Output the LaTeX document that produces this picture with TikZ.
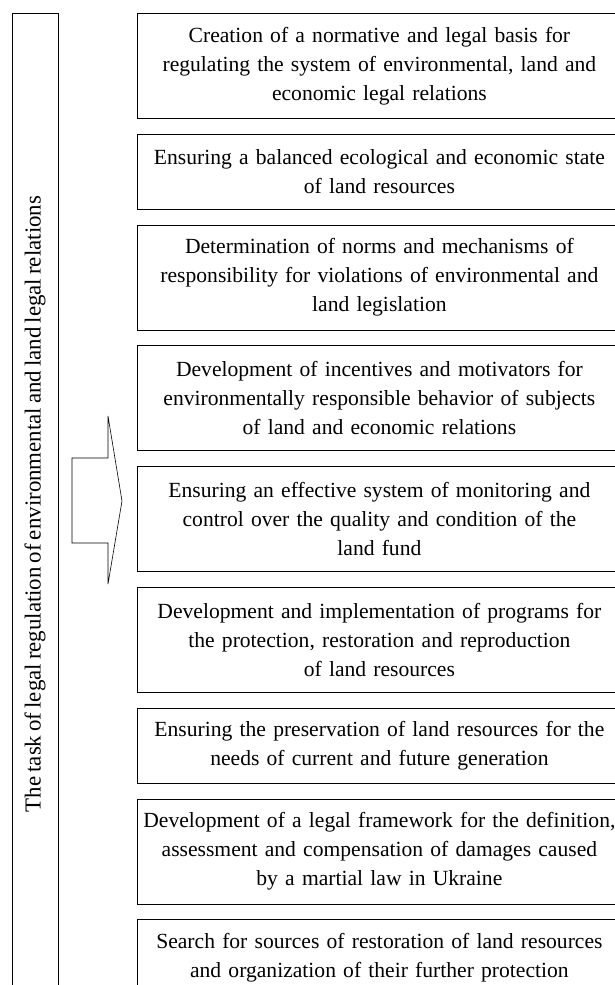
\documentclass[tikz,border=0pt]{standalone}
\usepackage{fontspec}
\setmainfont{Liberation Serif}[WordSpace=0.7]
\usepackage{tikz}
\usetikzlibrary{positioning}

\begin{document}
\begin{tikzpicture}[x=1pt,y=-1pt,node distance=15pt,
    taskbox/.style={draw,line width=0.8pt,anchor=north west,
      text width=484pt,align=center,inner xsep=0pt,inner ysep=2pt,
      font=\fontsize{21.6}{29}\selectfont},
    tall/.style={taskbox,minimum height=105pt},
    short/.style={taskbox,minimum height=75pt}]
  \useasboundingbox (0,0) rectangle (615,985);
  \clip (0,0) rectangle (615,985);
  % left bar with the title
  \node[draw,line width=0.6pt,rotate=90,minimum width=982pt,minimum height=46pt,
    inner sep=0pt,font=\fontsize{22.9}{24}\selectfont] (task) at (35,504)
    {\raisebox{-1pt}{The task of legal regulation of environmental and land legal relations}};
  % list of tasks
  \node[tall] (t1) at (137,13) {Creation of a normative and legal basis for\\
    regulating the system of environmental, land and\\ economic legal relations};
  \node[short,below=of t1.south west,anchor=north west] (t2) {Ensuring a balanced ecological and economic state\\
    of land resources};
  \node[tall,below=of t2.south west,anchor=north west] (t3) {Determination of norms and mechanisms of\\
    responsibility for violations of environmental and\\ land legislation};
  \node[tall,below=of t3.south west,anchor=north west] (t4) {Development of incentives and motivators for\\
    environmentally responsible behavior of subjects\\ of land and economic relations};
  \node[tall,below=of t4.south west,anchor=north west] (t5) {Ensuring an effective system of monitoring and\\
    control over the quality and condition of the\\ land fund};
  \node[tall,below=of t5.south west,anchor=north west] (t6) {Development and implementation of programs for\\
    the protection, restoration and reproduction\\ of land resources};
  \node[short,below=of t6.south west,anchor=north west] (t7) {Ensuring the preservation of land resources for the\\
    needs of current and future generation};
  \node[tall,below=of t7.south west,anchor=north west] (t8) {Development of a legal framework for the definition,\\
    assessment and compensation of damages caused\\ by a martial law in Ukraine};
  \node[short,below=of t8.south west,anchor=north west] (t9) {Search for sources of restoration of land resources\\
    and organization of their further protection};
  % block arrow from the bar to the list
  \draw[line width=0.6pt] (72,458) -- (108,458) -- (108,416) -- (122,501)
    -- (108,584) -- (108,543) -- (72,543) -- cycle;
\end{tikzpicture}
\end{document}
